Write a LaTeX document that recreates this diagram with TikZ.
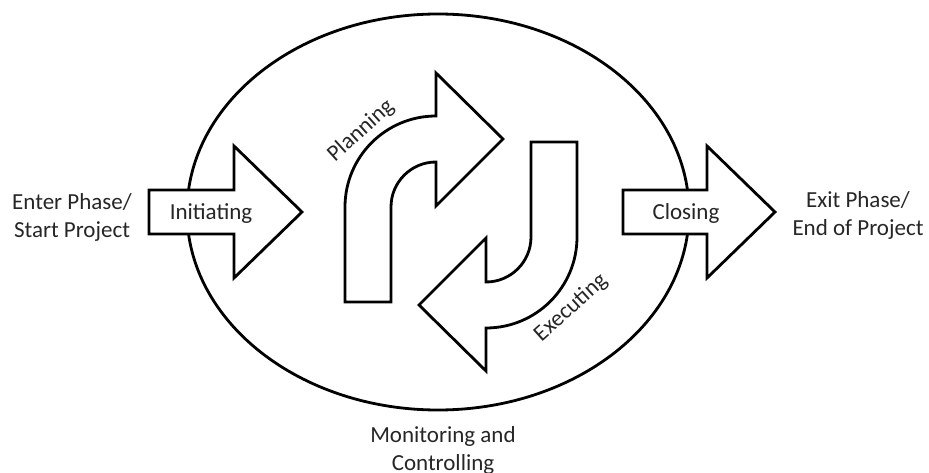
\documentclass[tikz,border=0pt]{standalone}
\usepackage{fontspec}
\setmainfont{Carlito}
\begin{document}
\begin{tikzpicture}[x=1pt,y=1pt,
  shapeline/.style={draw=black,line width=2.8pt,line join=miter,fill=white},
  lbl/.style={text=black!85,font=\fontsize{23}{28}\selectfont,inner sep=0pt,align=center}]
\useasboundingbox (0,0) rectangle (929,472);
% outer ellipse
\draw[line width=2.8pt] (438,260) ellipse [x radius=251, y radius=198];
% Initiating arrow
\draw[shapeline] (149,238) -- (149,282) -- (234,282) -- (234,326) -- (302,260) -- (234,194) -- (234,238) -- cycle;
% Closing arrow
\draw[shapeline] (623,238) -- (623,282) -- (707,282) -- (707,326) -- (775,260) -- (707,194) -- (707,238) -- cycle;
% Planning arrow
\draw[shapeline] (345,170) -- (345,265) arc[start angle=180,end angle=90,radius=91]
  -- (436,399) -- (503,333) -- (436,266) -- (436,310)
  arc[start angle=90,end angle=180,radius=45] -- (391,170) -- cycle;
% Executing arrow (Planning rotated by 180 degrees)
\begin{scope}[rotate around={180:(461,250)}]
\draw[shapeline] (345,170) -- (345,265) arc[start angle=180,end angle=90,radius=91]
  -- (436,399) -- (503,333) -- (436,266) -- (436,310)
  arc[start angle=90,end angle=180,radius=45] -- (391,170) -- cycle;
\end{scope}
% labels
\node[lbl] (enter) at (72,255) {Enter Phase/\\Start Project};
\node[lbl] (exit) at (858,257) {Exit Phase/\\End of Project};
\node[lbl] (monitor) at (443,22) {Monitoring and\\Controlling};
\node[lbl,anchor=base] (init) at (211,252) {Initiating};
\node[lbl,anchor=base] (closing) at (686,253) {Closing};
\node[lbl,rotate=42] (plan) at (361,341) {Planning};
\node[lbl,rotate=42] (exec) at (571,164) {Executing};
\end{tikzpicture}
\end{document}
